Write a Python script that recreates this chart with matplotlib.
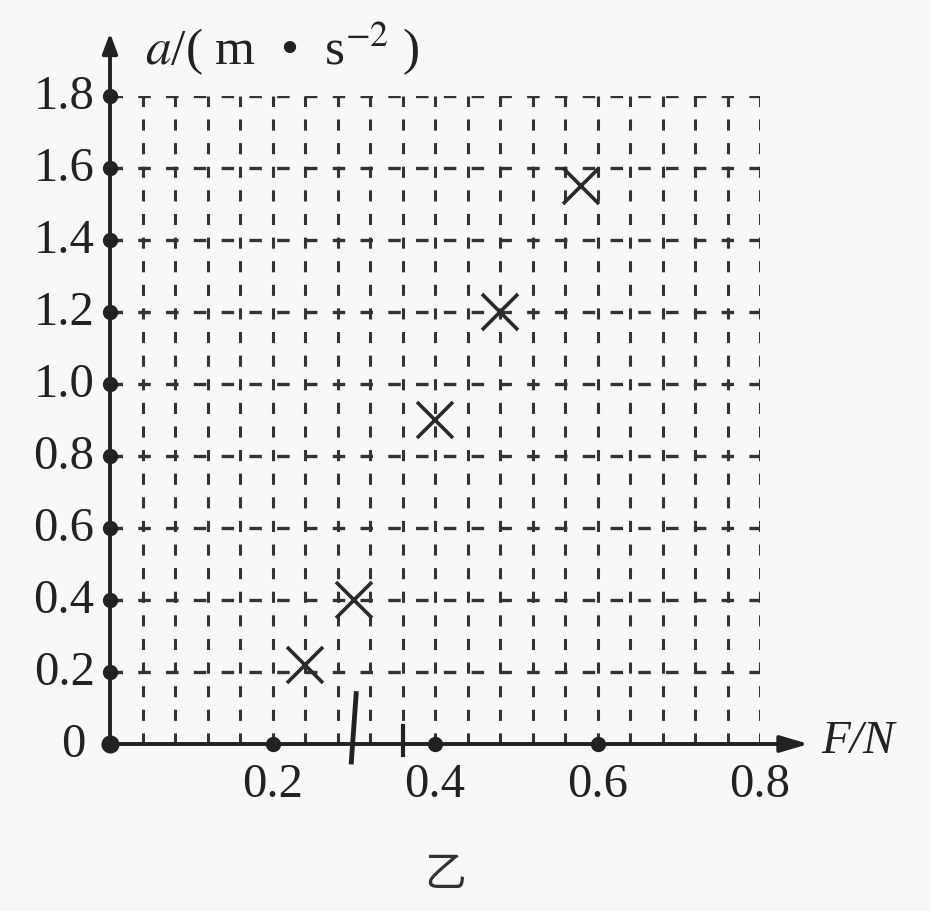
import matplotlib
matplotlib.use("Agg")
import matplotlib.pyplot as plt
import numpy as np

plt.rcParams['lines.scale_dashes'] = False

# Data
F_values = [0.24, 0.30, 0.40, 0.48, 0.58]
a_values = [0.22, 0.40, 0.90, 1.20, 1.55]
x_ticks = [0.2, 0.4, 0.6, 0.8]
x_tick_labels = ["0.2", "0.4", "0.6", "0.8"]
y_ticks = [0.2, 0.4, 0.6, 0.8, 1.0, 1.2, 1.4, 1.6, 1.8]
y_tick_labels = ["0.2", "0.4", "0.6", "0.8", "1.0", "1.2", "1.4", "1.6", "1.8"]
x_grid = [round(0.04 * k, 2) for k in range(1, 21)]
hand_marks_x = [0.30, 0.36]

W, H = 930, 912
fig = plt.figure(figsize=(W / 100, H / 100), dpi=100, facecolor='#f8f8f8')
x0, x1 = 110, 760
y0, y1 = 745, 97
ax = fig.add_axes([x0 / W, (H - y0) / H, (x1 - x0) / W, (y0 - y1) / H])
ax.set_xlim(0, 0.8)
ax.set_ylim(0, 1.8)
ax.axis('off')
ax.set_facecolor('none')

serif = 'Liberation Serif'
grid_col = '#333333'
ink = '#222222'

# grid
for gx in x_grid:
    ax.plot([gx, gx], [0, 1.8], color=grid_col, lw=2.2,
            dashes=(8, 9), dash_capstyle='butt', zorder=1)
for gy in y_ticks:
    ax.plot([0, 0.8], [gy, gy], color=grid_col, lw=2.4,
            dashes=(9, 11), dash_capstyle='butt', zorder=1)

# axes with arrows
ax.annotate('', xy=(0, 1.975), xytext=(0, 0), annotation_clip=False,
            arrowprops=dict(arrowstyle='-|>,head_length=1.2,head_width=0.45',
                            color=ink, lw=2.8, shrinkA=0, shrinkB=0))
ax.annotate('', xy=(0.86, 0), xytext=(0, 0), annotation_clip=False,
            arrowprops=dict(arrowstyle='-|>,head_length=1.7,head_width=0.5',
                            color=ink, lw=2.8, shrinkA=0, shrinkB=0))

# tick dots
ax.plot([0] * len(y_ticks), y_ticks, 'o', color=ink, ms=10, clip_on=False, zorder=4)
ax.plot([0.2, 0.4, 0.6], [0, 0, 0], 'o', color=ink, ms=10, clip_on=False, zorder=4)
ax.plot([0], [0], 'o', color=ink, ms=12, clip_on=False, zorder=4)

# hand marks near the x axis
ax.plot([hand_marks_x[0] + 0.003, hand_marks_x[0] - 0.003], [0.14, -0.05],
        color=ink, lw=3.5, clip_on=False, zorder=4)
ax.plot([hand_marks_x[1], hand_marks_x[1]], [0.05, -0.03],
        color=ink, lw=3.0, clip_on=False, zorder=4)

# data markers
ax.plot(F_values, a_values, 'x', color='#2a2a2a', ms=26, mew=2.6, zorder=5, clip_on=False)

# tick labels
for yv, lab in zip(y_ticks, y_tick_labels):
    ax.text(-0.019, yv, lab, ha='right', va='center', fontsize=35,
            family=serif, color=ink)
ax.text(-0.03, 0.0, "0", ha='right', va='center', fontsize=35,
        family=serif, color=ink)
for xv, lab in zip(x_ticks, x_tick_labels):
    ax.text(xv, -0.05, lab, ha='center', va='top', fontsize=35,
            family=serif, color=ink)

# axis labels
ax.text(0.043, 1.935, r"$a$/( m  •  s$^{-2}$ )", ha='left', va='center',
        fontsize=37, family=serif, color=ink, math_fontfamily='stix')
ax.text(0.875, 0.01, "F/N", ha='left', va='center', fontsize=34,
        family=serif, style='italic', color=ink)

# caption
fig.text(445 / W, 1 - 875 / H, "乙", ha='center', va='center', fontsize=30,
         family=['Noto Sans CJK SC', 'DejaVu Sans'], color='#333333')

fig.savefig('out.png', dpi=100, facecolor=fig.get_facecolor())
